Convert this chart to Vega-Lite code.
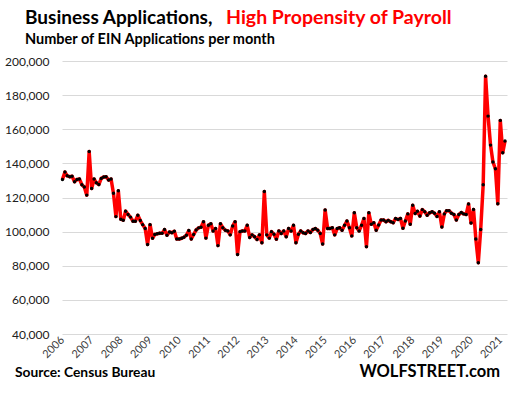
{
  "$schema": "https://vega.github.io/schema/vega-lite/v6.json",
  "width": 445,
  "height": 273,
  "autosize": {"type": "none"},
  "padding": {"left": 62, "top": 61, "right": 3, "bottom": 63},
  "config": {"view": {"stroke": null}},
  "datasets": {
    "hba": [
      {"month": "2006-01-01", "v": 130600}, {"month": "2006-02-01", "v": 134900}, {"month": "2006-03-01", "v": 132700}, {"month": "2006-04-01", "v": 132200}, {"month": "2006-05-01", "v": 132400}, {"month": "2006-06-01", "v": 129200}, {"month": "2006-07-01", "v": 130600}, {"month": "2006-08-01", "v": 130800}, {"month": "2006-09-01", "v": 127500}, {"month": "2006-10-01", "v": 126100}, {"month": "2006-11-01", "v": 121400}, {"month": "2006-12-01", "v": 146900},
      {"month": "2007-01-01", "v": 125300}, {"month": "2007-02-01", "v": 130800}, {"month": "2007-03-01", "v": 128600}, {"month": "2007-04-01", "v": 127600}, {"month": "2007-05-01", "v": 131200}, {"month": "2007-06-01", "v": 132000}, {"month": "2007-07-01", "v": 132200}, {"month": "2007-08-01", "v": 130200}, {"month": "2007-09-01", "v": 130800}, {"month": "2007-10-01", "v": 122500}, {"month": "2007-11-01", "v": 108800}, {"month": "2007-12-01", "v": 123900},
      {"month": "2008-01-01", "v": 107300}, {"month": "2008-02-01", "v": 106700}, {"month": "2008-03-01", "v": 112000}, {"month": "2008-04-01", "v": 110000}, {"month": "2008-05-01", "v": 108500}, {"month": "2008-06-01", "v": 106100}, {"month": "2008-07-01", "v": 106100}, {"month": "2008-08-01", "v": 109600}, {"month": "2008-09-01", "v": 106500}, {"month": "2008-10-01", "v": 104100}, {"month": "2008-11-01", "v": 101800}, {"month": "2008-12-01", "v": 92400},
      {"month": "2009-01-01", "v": 104100}, {"month": "2009-02-01", "v": 96100}, {"month": "2009-03-01", "v": 98300}, {"month": "2009-04-01", "v": 98700}, {"month": "2009-05-01", "v": 99000}, {"month": "2009-06-01", "v": 99000}, {"month": "2009-07-01", "v": 101200}, {"month": "2009-08-01", "v": 97900}, {"month": "2009-09-01", "v": 99800}, {"month": "2009-10-01", "v": 99400}, {"month": "2009-11-01", "v": 100200}, {"month": "2009-12-01", "v": 95700},
      {"month": "2010-01-01", "v": 95700}, {"month": "2010-02-01", "v": 96100}, {"month": "2010-03-01", "v": 96700}, {"month": "2010-04-01", "v": 97900}, {"month": "2010-05-01", "v": 100600}, {"month": "2010-06-01", "v": 95700}, {"month": "2010-07-01", "v": 98300}, {"month": "2010-08-01", "v": 101000}, {"month": "2010-09-01", "v": 102200}, {"month": "2010-10-01", "v": 102600}, {"month": "2010-11-01", "v": 105800}, {"month": "2010-12-01", "v": 96200},
      {"month": "2011-01-01", "v": 103700}, {"month": "2011-02-01", "v": 104600}, {"month": "2011-03-01", "v": 100400}, {"month": "2011-04-01", "v": 101800}, {"month": "2011-05-01", "v": 91800}, {"month": "2011-06-01", "v": 104600}, {"month": "2011-07-01", "v": 102300}, {"month": "2011-08-01", "v": 100800}, {"month": "2011-09-01", "v": 100400}, {"month": "2011-10-01", "v": 98100}, {"month": "2011-11-01", "v": 103300}, {"month": "2011-12-01", "v": 105800},
      {"month": "2012-01-01", "v": 86600}, {"month": "2012-02-01", "v": 100000}, {"month": "2012-03-01", "v": 100400}, {"month": "2012-04-01", "v": 100400}, {"month": "2012-05-01", "v": 103700}, {"month": "2012-06-01", "v": 96600}, {"month": "2012-07-01", "v": 98100}, {"month": "2012-08-01", "v": 97000}, {"month": "2012-09-01", "v": 95400}, {"month": "2012-10-01", "v": 98100}, {"month": "2012-11-01", "v": 93500}, {"month": "2012-12-01", "v": 123500},
      {"month": "2013-01-01", "v": 98100}, {"month": "2013-02-01", "v": 96200}, {"month": "2013-03-01", "v": 100000}, {"month": "2013-04-01", "v": 98500}, {"month": "2013-05-01", "v": 95600}, {"month": "2013-06-01", "v": 100400}, {"month": "2013-07-01", "v": 98900}, {"month": "2013-08-01", "v": 100400}, {"month": "2013-09-01", "v": 97000}, {"month": "2013-10-01", "v": 101800}, {"month": "2013-11-01", "v": 100400}, {"month": "2013-12-01", "v": 103700},
      {"month": "2014-01-01", "v": 93500}, {"month": "2014-02-01", "v": 98500}, {"month": "2014-03-01", "v": 100400}, {"month": "2014-04-01", "v": 99300}, {"month": "2014-05-01", "v": 98900}, {"month": "2014-06-01", "v": 100400}, {"month": "2014-07-01", "v": 99500}, {"month": "2014-08-01", "v": 101200}, {"month": "2014-09-01", "v": 101800}, {"month": "2014-10-01", "v": 100800}, {"month": "2014-11-01", "v": 98900}, {"month": "2014-12-01", "v": 92700},
      {"month": "2015-01-01", "v": 112700}, {"month": "2015-02-01", "v": 101800}, {"month": "2015-03-01", "v": 101800}, {"month": "2015-04-01", "v": 102300}, {"month": "2015-05-01", "v": 98100}, {"month": "2015-06-01", "v": 101800}, {"month": "2015-07-01", "v": 102300}, {"month": "2015-08-01", "v": 100800}, {"month": "2015-09-01", "v": 103700}, {"month": "2015-10-01", "v": 106200}, {"month": "2015-11-01", "v": 102300}, {"month": "2015-12-01", "v": 97500},
      {"month": "2016-01-01", "v": 111000}, {"month": "2016-02-01", "v": 102300}, {"month": "2016-03-01", "v": 100400}, {"month": "2016-04-01", "v": 103700}, {"month": "2016-05-01", "v": 107700}, {"month": "2016-06-01", "v": 91200}, {"month": "2016-07-01", "v": 111000}, {"month": "2016-08-01", "v": 104300}, {"month": "2016-09-01", "v": 105200}, {"month": "2016-10-01", "v": 100800}, {"month": "2016-11-01", "v": 103900}, {"month": "2016-12-01", "v": 106800},
      {"month": "2017-01-01", "v": 106800}, {"month": "2017-02-01", "v": 105800}, {"month": "2017-03-01", "v": 106600}, {"month": "2017-04-01", "v": 105800}, {"month": "2017-05-01", "v": 105200}, {"month": "2017-06-01", "v": 107700}, {"month": "2017-07-01", "v": 107100}, {"month": "2017-08-01", "v": 107700}, {"month": "2017-09-01", "v": 102000}, {"month": "2017-10-01", "v": 106200}, {"month": "2017-11-01", "v": 110400}, {"month": "2017-12-01", "v": 104300},
      {"month": "2018-01-01", "v": 115400}, {"month": "2018-02-01", "v": 110600}, {"month": "2018-03-01", "v": 111900}, {"month": "2018-04-01", "v": 109100}, {"month": "2018-05-01", "v": 112900}, {"month": "2018-06-01", "v": 111600}, {"month": "2018-07-01", "v": 109600}, {"month": "2018-08-01", "v": 111000}, {"month": "2018-09-01", "v": 111600}, {"month": "2018-10-01", "v": 110800}, {"month": "2018-11-01", "v": 108900}, {"month": "2018-12-01", "v": 111600},
      {"month": "2019-01-01", "v": 102700}, {"month": "2019-02-01", "v": 110400}, {"month": "2019-03-01", "v": 112300}, {"month": "2019-04-01", "v": 112300}, {"month": "2019-05-01", "v": 110800}, {"month": "2019-06-01", "v": 110000}, {"month": "2019-07-01", "v": 106800}, {"month": "2019-08-01", "v": 110000}, {"month": "2019-09-01", "v": 111200}, {"month": "2019-10-01", "v": 110400}, {"month": "2019-11-01", "v": 110000}, {"month": "2019-12-01", "v": 116200},
      {"month": "2020-01-01", "v": 105000}, {"month": "2020-02-01", "v": 113000}, {"month": "2020-03-01", "v": 95700}, {"month": "2020-04-01", "v": 81800}, {"month": "2020-05-01", "v": 101300}, {"month": "2020-06-01", "v": 127500}, {"month": "2020-07-01", "v": 191000}, {"month": "2020-08-01", "v": 167700}, {"month": "2020-09-01", "v": 150700}, {"month": "2020-10-01", "v": 140800}, {"month": "2020-11-01", "v": 136800}, {"month": "2020-12-01", "v": 116300},
      {"month": "2021-01-01", "v": 165200}, {"month": "2021-02-01", "v": 146200}, {"month": "2021-03-01", "v": 153100}
    ]
  },
  "layer": [
    {
      "data": {"name": "hba"},
      "mark": {"type": "line", "color": "#ff0000", "strokeWidth": 3.5, "strokeJoin": "round"},
      "encoding": {
        "x": {
          "field": "month", "type": "temporal",
          "scale": {"domain": ["2005-12-26", "2021-03-26"]},
          "axis": {
            "format": "%Y", "tickCount": {"interval": "year", "step": 1},
            "labelAngle": -45, "labelAlign": "right", "labelBaseline": "middle",
            "grid": false, "domain": false, "ticks": false, "labelPadding": 4,
            "labelFont": "Lato", "labelFontSize": 11, "labelColor": "#404040",
            "title": null, "labelOverlap": false
          }
        },
        "y": {
          "field": "v", "type": "quantitative",
          "scale": {"domain": [40000, 200000], "nice": false, "zero": false},
          "axis": {
            "values": [40000, 60000, 80000, 100000, 120000, 140000, 160000, 180000, 200000],
            "tickCount": 9,
            "format": ",d", "grid": true, "gridColor": "#d9d9d9", "gridWidth": 1,
            "domain": false, "ticks": false, "labelPadding": 13, "labelOverlap": false,
            "labelFont": "Lato", "labelFontSize": 12, "labelColor": "#202020",
            "title": null
          }
        }
      }
    },
    {
      "data": {"name": "hba"},
      "mark": {"type": "point", "filled": true, "color": "#000000", "size": 12, "opacity": 1},
      "encoding": {
        "x": {"field": "month", "type": "temporal"},
        "y": {"field": "v", "type": "quantitative"}
      }
    },
    {
      "data": {"values": [{"t": "Business Applications,"}]},
      "mark": {"type": "text", "align": "left", "baseline": "alphabetic", "font": "Lato", "fontSize": 19, "fontWeight": "bold", "color": "#000000"},
      "encoding": {"text": {"field": "t"}, "x": {"value": -37}, "y": {"value": -37}}
    },
    {
      "data": {"values": [{"t": "High Propensity of Payroll"}]},
      "mark": {"type": "text", "align": "left", "baseline": "alphabetic", "font": "Lato", "fontSize": 19.5, "fontWeight": "bold", "color": "#ff0000"},
      "encoding": {"text": {"field": "t"}, "x": {"value": 164}, "y": {"value": -37}}
    },
    {
      "data": {"values": [{"t": "Number of EIN Applications per month"}]},
      "mark": {"type": "text", "align": "left", "baseline": "alphabetic", "font": "Lato", "fontSize": 14.5, "fontWeight": "bold", "color": "#000000"},
      "encoding": {"text": {"field": "t"}, "x": {"value": -37}, "y": {"value": -17}}
    },
    {
      "data": {"values": [{"t": "Source: Census Bureau"}]},
      "mark": {"type": "text", "align": "left", "baseline": "alphabetic", "font": "Lato", "fontSize": 13.8, "fontWeight": "bold", "color": "#000000"},
      "encoding": {"text": {"field": "t"}, "x": {"value": -47}, "y": {"value": 316}}
    },
    {
      "data": {"values": [{"t": "WOLFSTREET.com"}]},
      "mark": {"type": "text", "align": "right", "baseline": "alphabetic", "font": "Lato", "fontSize": 16.5, "fontWeight": "bold", "color": "#000000"},
      "encoding": {"text": {"field": "t"}, "x": {"value": 438}, "y": {"value": 316}}
    }
  ]
}
